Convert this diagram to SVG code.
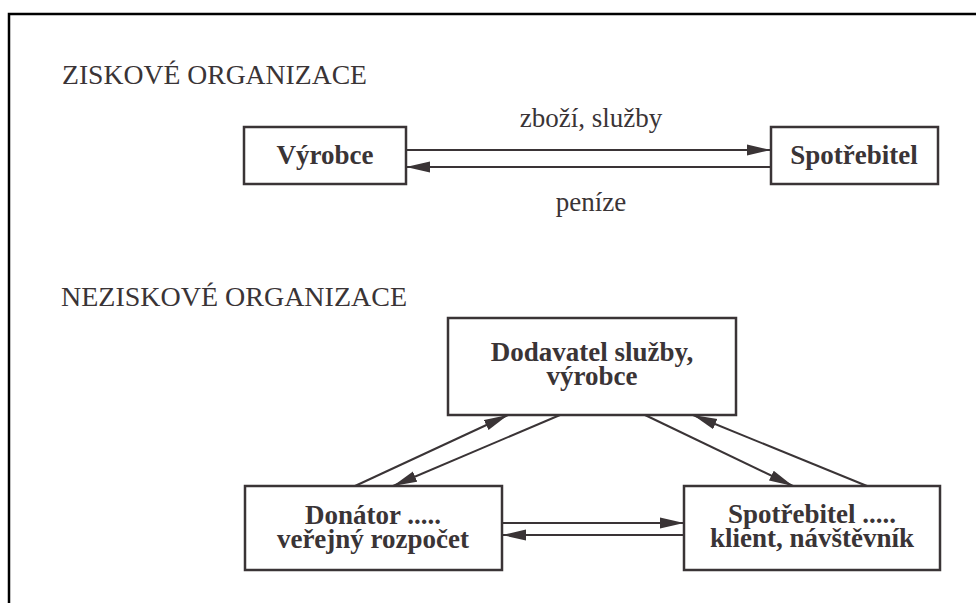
<svg xmlns="http://www.w3.org/2000/svg" width="976" height="603" viewBox="0 0 976 603">
<style>
  .title { font-family: "Liberation Serif", "Times New Roman", serif; font-size: 28px; fill: #3a3436; }
  .lbl { font-family: "Liberation Serif", "Times New Roman", serif; font-size: 27px; fill: #3a3436; text-anchor: middle; }
  .node rect { fill: #ffffff; stroke: #3a3436; stroke-width: 2.5; }
  .node text { font-family: "Liberation Serif", "Times New Roman", serif; font-size: 27px; font-weight: bold; fill: #3a3436; text-anchor: middle; }
  .conn line { stroke: #3a3436; stroke-width: 2; marker-end: url(#ah); }
</style>
<defs>
  <marker id="ah" markerUnits="userSpaceOnUse" markerWidth="26" markerHeight="14" refX="24" refY="6" orient="auto">
    <path d="M0,0.5 L24,6 L0,11.5 z" fill="#3a3436"/>
  </marker>
</defs>
<rect width="976" height="603" fill="#ffffff"/>
<path d="M9,603 V14 H976" fill="none" stroke="#000000" stroke-width="2.5"/>

<text class="title" x="62" y="84" textLength="305" lengthAdjust="spacingAndGlyphs">ZISKOVÉ ORGANIZACE</text>
<text class="title" x="61" y="306" textLength="346" lengthAdjust="spacingAndGlyphs">NEZISKOVÉ ORGANIZACE</text>

<g id="vyrobce" class="node">
  <rect x="244" y="127" width="162" height="57"/>
  <text x="325" y="164">Výrobce</text>
</g>
<g id="spotrebitel1" class="node">
  <rect x="771" y="127" width="167" height="57"/>
  <text x="854" y="164">Spotřebitel</text>
</g>
<g id="dodavatel" class="node">
  <rect x="448" y="318" width="288" height="97"/>
  <text x="592" y="361">Dodavatel služby,</text>
  <text x="592" y="385">výrobce</text>
</g>
<g id="donator" class="node">
  <rect x="245" y="486" width="257" height="84"/>
  <text x="373" y="524">Donátor .....</text>
  <text x="373" y="548">veřejný rozpočet</text>
</g>
<g id="spotrebitel2" class="node">
  <rect x="684" y="486" width="256" height="84"/>
  <text x="812" y="523">Spotřebitel .....</text>
  <text x="812" y="547">klient, návštěvník</text>
</g>

<g id="connectors" class="conn">
  <line x1="406" y1="150" x2="771" y2="150"/>
  <line x1="771" y1="167" x2="406" y2="167"/>
  <line x1="355" y1="486" x2="508" y2="415"/>
  <line x1="560" y1="415" x2="393" y2="486"/>
  <line x1="645" y1="415" x2="793" y2="486"/>
  <line x1="867" y1="486" x2="693" y2="415"/>
  <line x1="502" y1="523" x2="684" y2="523"/>
  <line x1="684" y1="535" x2="502" y2="535"/>
</g>

<text class="lbl" x="591" y="127">zboží, služby</text>
<text class="lbl" x="591" y="211">peníze</text>
</svg>
